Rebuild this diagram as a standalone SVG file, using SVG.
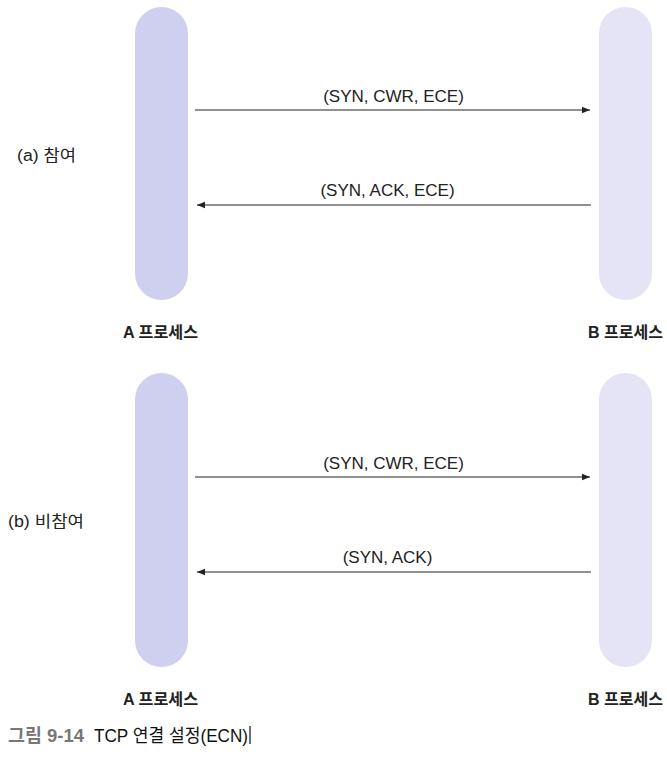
<svg xmlns="http://www.w3.org/2000/svg" width="667" height="757" viewBox="0 0 667 757">
<style>
.pa{fill:#cfd0ef}
.pb{fill:#e4e4f6}
.lbl{font-family:"Liberation Sans","Noto Sans CJK KR",sans-serif;font-size:17px;fill:#222;text-anchor:middle}
.side{font-family:"Liberation Sans","Noto Sans CJK KR",sans-serif;font-size:16px;fill:#222}
.proc{font-family:"Liberation Sans","Noto Sans CJK KR",sans-serif;font-size:16px;font-weight:bold;fill:#222}
.cap{font-family:"Liberation Sans","Noto Sans CJK KR",sans-serif;font-size:18px}
.ln{stroke:#222;stroke-width:1.2;fill:none}
</style>
<defs>
<marker id="ah" viewBox="0 0 10 10" refX="10" refY="5" markerWidth="8" markerHeight="8" markerUnits="userSpaceOnUse" orient="auto">
<path d="M0,1 L10,5 L0,9 Z" fill="#222"/>
</marker>
</defs>
<rect width="667" height="757" fill="#fff"/>
<g id="procA1"><rect class="pa" x="135" y="7" width="53" height="293" rx="26.5"/></g>
<g id="procB1"><rect class="pb" x="599" y="7" width="53" height="293" rx="26.5"/></g>
<g id="procA2"><rect class="pa" x="135" y="373" width="53" height="294" rx="26.5"/></g>
<g id="procB2"><rect class="pb" x="599" y="373" width="53" height="294" rx="26.5"/></g>
<g id="connectors">
<line class="ln" x1="195" y1="110" x2="590" y2="110" marker-end="url(#ah)"/>
<line class="ln" x1="591" y1="205" x2="197" y2="205" marker-end="url(#ah)"/>
<line class="ln" x1="195" y1="477" x2="590" y2="477" marker-end="url(#ah)"/>
<line class="ln" x1="591" y1="572" x2="197" y2="572" marker-end="url(#ah)"/>
</g>
<g id="labels">
<text class="lbl" x="393.5" y="102">(SYN, CWR, ECE)</text>
<text class="lbl" x="387.5" y="196">(SYN, ACK, ECE)</text>
<text class="lbl" x="393.5" y="469">(SYN, CWR, ECE)</text>
<text class="lbl" x="387.5" y="563">(SYN, ACK)</text>
<text class="side" x="17" y="161" textLength="59" lengthAdjust="spacingAndGlyphs">(a) 참여</text>
<text class="side" x="8" y="527" textLength="76" lengthAdjust="spacingAndGlyphs">(b) 비참여</text>
<text class="proc" x="123" y="338" textLength="75" lengthAdjust="spacingAndGlyphs">A 프로세스</text>
<text class="proc" x="588" y="338" textLength="75" lengthAdjust="spacingAndGlyphs">B 프로세스</text>
<text class="proc" x="123" y="705" textLength="75" lengthAdjust="spacingAndGlyphs">A 프로세스</text>
<text class="proc" x="588" y="705" textLength="75" lengthAdjust="spacingAndGlyphs">B 프로세스</text>
</g>
<g id="caption">
<text class="cap" x="8" y="742" font-weight="bold" fill="#777" textLength="76" lengthAdjust="spacingAndGlyphs">그림 9-14</text>
<text class="cap" x="94" y="742" fill="#111" textLength="154" lengthAdjust="spacingAndGlyphs">TCP 연결 설정(ECN)</text>
<line x1="250" y1="726" x2="250" y2="744" stroke="#111" stroke-width="1.2"/>
</g>
</svg>
